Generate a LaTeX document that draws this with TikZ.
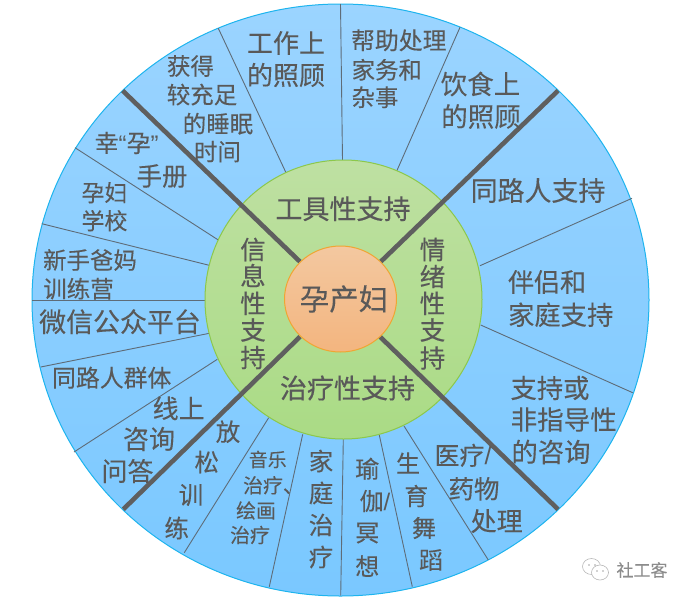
\documentclass[tikz,border=0pt]{standalone}
\usepackage{fontspec}
\setmainfont[FakeBold=0.12]{Noto Sans CJK SC}
\newfontfamily\semi[FakeBold=0.45]{Noto Sans CJK SC}
\newfontfamily\latinq{Liberation Sans}
\newcommand{\slashc}{\latinq /}
\newcommand{\ql}{{\latinq “}}
\newcommand{\qr}{{\latinq ”}}
\definecolor{txt}{HTML}{595959}
\definecolor{spoke}{HTML}{5F5F5F}
\definecolor{thin}{HTML}{5E6C78}
\tikzset{
  lab/.style={text=txt,inner sep=0pt,anchor=center},
  thick spoke/.style={draw=spoke,line width=4.6pt},
  thin spoke/.style={draw=thin,line width=0.9pt},
}
\begin{document}
\begin{tikzpicture}[x=1pt,y=-1pt]
\useasboundingbox (0,0) rectangle (688,600);
% outer disc
\path[top color={rgb,255:red,155;green,212;blue,255},bottom color={rgb,255:red,122;green,200;blue,255},draw={rgb,255:red,29;green,180;blue,238},line width=1pt]
  (340.5,300) ellipse [x radius=308.5pt,y radius=296pt];
% thin spokes
\foreach \a/\b/\c/\d in {340.5/4/342.5/160,218.3/28.3/286/172.7,460/27.3/396.3/172,75/147.7/218.3/240,41.7/223.7/209.3/265.3,632/198.3/480/265.7,32/300/205/300,40.7/367/209.3/333.3,74/452/217.3/359.3,184.3/552.7/268.7/417.7,269.3/586.7/302.7/434.3,340.7/595.7/343.3/439.3,412.3/586.7/379.3/435,488.3/560/404/426,632.7/392.7/480.7/325}
  \draw[thin spoke] (\a,\b) -- (\c,\d);
% middle ring
\path[top color={rgb,255:red,190;green,224;blue,162},bottom color={rgb,255:red,170;green,219;blue,133},draw={rgb,255:red,140;green,200;blue,75},line width=1pt]
  (343.5,299.5) ellipse [x radius=138.5pt,y radius=139.5pt];
% thick spokes
\foreach \a/\b/\c/\d in {122.7/90.7/300/261.7,558/90.7/380.7/261.7,123.3/509.3/300/336.7,558/509.3/380/336.7}
  \draw[thick spoke] (\a,\b) -- (\c,\d);
% centre
\path[top color={rgb,255:red,243;green,200;blue,160},bottom color={rgb,255:red,243;green,181;blue,127},draw={rgb,255:red,240;green,165;blue,50},line width=1pt]
  (340.5,299) ellipse [x radius=56pt,y radius=53pt];
% labels
\foreach \x/\y/\s/\t [count=\i] in {
 286/43/25.5/工作上, 286/75/25.5/的照顾,
 190.5/66/23/获得, 202/94.6/23/较充足, 218/123.7/23/的睡眠, 217.5/151.7/23/时间,
 126.7/143/23.5/幸\ql 孕\qr, 162/176/25/手册,
 104.5/192.7/22.5/孕妇, 104.5/220.7/22.5/学校,
 90/260/23/新手爸妈, 78.5/288.7/23/训练营,
 120/321.7/26.4/微信公众平台,
 111.7/377.7/23.4/同路人群体,
 178.7/408.3/25.5/线上, 149/439/25.5/咨询, 127.5/471/25.5/问答,
 228/431.7/24/放, 206.7/462/24/松, 191/495/24/训, 176.7/528/24/练,
 267.7/459.5/18.5/音乐, 273/485.3/19.5/治疗、, 256/510.5/19.5/绘画, 250/535/19.5/治疗,
 321/461/24/家, 321/493/24/庭, 321/525/24/治, 321/557/24/疗,
 367.3/468.7/23.5/瑜, 375/501/23.5/伽\slashc, 367.3/533/23.5/冥, 367.3/566/23.5/想,
 408/463/23.5/生, 416.3/496/23.5/育, 424/528/23.5/舞, 431/560/23.5/蹈,
 463/455.3/24.5/医疗\slashc, 474/488.8/25/药物, 496.7/521/25.5/处理,
 550/388/25.8/支持或, 563.7/419.5/26/非指导性, 551/452/25.8/的咨询,
 547/282/25.5/伴侣和, 560.7/314.7/25.8/家庭支持,
 538/190.5/26.4/同路人支持,
 480.5/84/26/饮食上, 481/116.5/26/的照顾,
 398.8/40.3/23.4/帮助处理, 386.8/69.7/23/家务和, 375/97.3/23/杂事}
  {\pgfmathsetmacro\fs{\s*1.02}
  \node[lab,name=t\i,font=\fontsize{\fs}{\fs}\selectfont] at (\x,\y) {\t};}
\foreach \x/\y/\t [count=\i] in {
 253/249.5/信, 253/275.5/息, 253/303.3/性, 253/330/支, 253/357.5/持,
 432.5/249.5/情, 432.5/276.5/绪, 432.5/303.3/性, 432.5/330/支, 432.5/358/持}
  \node[lab,name=r\i,font=\semi\fontsize{25.5}{25.5}\selectfont] at (\x,\y) {\t};
\node[lab,font=\semi\fontsize{27}{27}\selectfont] (tool) at (343,208.7) {工具性支持};
\node[lab,font=\semi\fontsize{27}{27}\selectfont] (heal) at (347.5,388) {治疗性支持};
\node[lab,font=\fontsize{29.5}{29.5}\selectfont] (mother) at (344,299) {孕产妇};
% watermark
\draw[line width=0.6pt,draw=black!28,fill=white] (591.5,566.5) ellipse [x radius=9pt,y radius=8pt];
\draw[line width=0.6pt,draw=black!28,fill=white] (600,572.5) ellipse [x radius=8.5pt,y radius=7.5pt];
\fill[black!35] (589,565) circle (0.9pt) (595,565) circle (0.9pt) (597,571) circle (0.8pt) (603,571) circle (0.8pt);
\node[lab,text=black!45,font=\fontsize{17}{17}\selectfont] (wm) at (642,570) {社工客};
\end{tikzpicture}
\end{document}
